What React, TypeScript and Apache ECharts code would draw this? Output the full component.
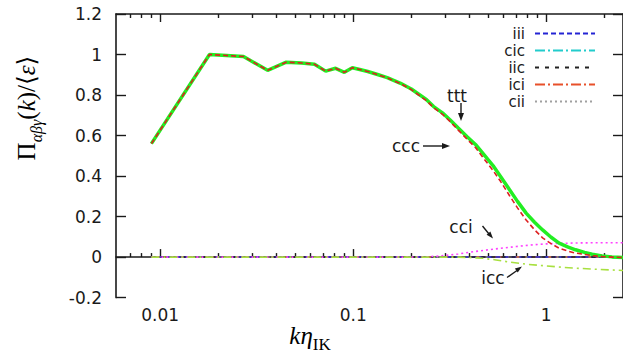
import React, { useEffect, useRef } from "react";
import * as echarts from "echarts";

// ---- data ----
const kMain = [0.009, 0.018, 0.027, 0.036, 0.045, 0.054, 0.063, 0.072, 0.081, 0.09, 0.099, 0.108, 0.119, 0.135, 0.15, 0.176, 0.2, 0.215, 0.24, 0.261, 0.29, 0.318, 0.35, 0.388, 0.43, 0.47, 0.53, 0.58, 0.646, 0.71, 0.787, 0.87, 0.958, 1.06, 1.166, 1.3, 1.42, 1.58, 1.73, 1.95, 2.19, 2.5];
const tttValues = [0.56, 1.0, 0.99, 0.922, 0.962, 0.958, 0.952, 0.918, 0.932, 0.912, 0.935, 0.926, 0.916, 0.9, 0.886, 0.858, 0.83, 0.809, 0.777, 0.743, 0.712, 0.677, 0.637, 0.595, 0.556, 0.512, 0.452, 0.398, 0.332, 0.275, 0.217, 0.172, 0.134, 0.098, 0.069, 0.049, 0.036, 0.023, 0.014, 0.006, 0.001, -0.002];
const cccValues = [0.56, 1.0, 0.99, 0.922, 0.962, 0.958, 0.952, 0.918, 0.932, 0.912, 0.935, 0.926, 0.916, 0.899, 0.885, 0.856, 0.827, 0.805, 0.772, 0.737, 0.705, 0.669, 0.627, 0.583, 0.541, 0.492, 0.428, 0.374, 0.303, 0.243, 0.183, 0.135, 0.095, 0.066, 0.044, 0.029, 0.02, 0.013, 0.007, 0.003, 0.0, -0.002];

const kCci = [0.009, 0.1, 0.2, 0.25, 0.3, 0.35, 0.4, 0.45, 0.5, 0.6, 0.7, 0.8, 0.9, 1.0, 1.2, 1.5, 2.0, 2.5];
const cciValues = [0, 0, 0, 0.002, 0.008, 0.015, 0.024, 0.03, 0.036, 0.045, 0.052, 0.058, 0.062, 0.065, 0.068, 0.07, 0.071, 0.071];

const kIcc = [0.009, 0.1, 0.35, 0.4, 0.47, 0.55, 0.65, 0.8, 0.96, 1.2, 1.5, 1.8, 2.2, 2.5];
const iccValues = [0, 0, 0, -0.002, -0.006, -0.014, -0.025, -0.036, -0.042, -0.05, -0.056, -0.06, -0.064, -0.066];

const kFlat = [0.009, 0.03, 0.1, 0.3, 1.0, 2.5];
const iiiValues = [0, 0, 0, 0, 0, 0];
const cicValues = [0, 0, 0, 0, 0, 0];
const iicValues = [0, 0, 0, 0, 0, 0];
const iciValues = [0, 0, 0, 0, 0, 0];
const ciiValues = [0, 0, 0, 0, 0, 0];

const legendNames = ["iii", "cic", "iic", "ici", "cii"];
const xMajorTicks = [0.01, 0.1, 1];
const xTickLabels = ["0.01", "0.1", "1"];
const xMinorTicks = [0.007, 0.008, 0.009, 0.02, 0.03, 0.04, 0.05, 0.06, 0.07, 0.08, 0.09, 0.2, 0.3, 0.4, 0.5, 0.6, 0.7, 0.8, 0.9, 2];
const yTicks = { min: -0.2, max: 1.2, interval: 0.2 };

const pair = (ks: number[], vs: number[]) => ks.map((k, i) => [k, vs[i]]);

const SANS = "DejaVu Sans";
const SERIF = "Liberation Serif, DejaVu Serif, serif";
const INK = "#1a1a1a";

function lineSeries(name: string, ks: number[], vs: number[], color: string, width: number, type: any, z = 2) {
  return {
    name,
    type: "line",
    xAxisIndex: 0,
    yAxisIndex: 0,
    data: pair(ks, vs),
    symbol: "none",
    showSymbol: false,
    lineStyle: { color, width, type },
    itemStyle: { color },
    z,
  };
}

export default function App() {
  const ref = useRef<HTMLDivElement>(null);
  useEffect(() => {
    if (!ref.current) return;
    const chart = echarts.init(ref.current, undefined, { renderer: "svg" });
    const xBase = { type: "log", logBase: 10, min: 0.0059, max: 2.5, gridIndex: 0, splitLine: { show: false } };
    const axLine = { show: true, lineStyle: { color: INK, width: 1.6 } };
    const option: any = {
      animation: false,
      backgroundColor: "#fff",
      grid: { left: 116, top: 14, right: -4.6, bottom: 57.4, containLabel: false },
      xAxis: [
        {
          ...xBase,
          position: "bottom",
          axisLine: axLine,
          axisTick: { show: true, inside: true, length: 8, customValues: xMajorTicks, lineStyle: { color: INK, width: 1.4 } },
          axisLabel: {
            show: true,
            customValues: xMajorTicks,
            margin: 9,
            fontSize: 17,
            fontFamily: SANS,
            color: INK,
            formatter: (v: number) => {
              let best = 0;
              xMajorTicks.forEach((t, i) => {
                if (Math.abs(Math.log10(t) - Math.log10(v)) < Math.abs(Math.log10(xMajorTicks[best]) - Math.log10(v))) best = i;
              });
              return xTickLabels[best];
            },
          },
        },
        {
          ...xBase,
          position: "bottom",
          axisLine: { show: false },
          axisTick: { show: true, inside: true, length: 4, customValues: xMinorTicks, lineStyle: { color: INK, width: 1.4 } },
          axisLabel: { show: false },
        },
        {
          ...xBase,
          position: "top",
          axisLine: axLine,
          axisTick: { show: true, inside: true, length: 8, customValues: xMajorTicks, lineStyle: { color: INK, width: 1.4 } },
          axisLabel: { show: false },
        },
        {
          ...xBase,
          position: "top",
          axisLine: { show: false },
          axisTick: { show: true, inside: true, length: 4, customValues: xMinorTicks, lineStyle: { color: INK, width: 1.4 } },
          axisLabel: { show: false },
        },
      ],
      yAxis: [
        {
          type: "value",
          position: "left",
          min: yTicks.min,
          max: yTicks.max,
          interval: yTicks.interval,
          splitLine: { show: false },
          axisLine: axLine,
          axisTick: { show: true, inside: true, length: 10, lineStyle: { color: INK, width: 1.4 } },
          axisLabel: { margin: 14, fontSize: 17, fontFamily: SANS, color: INK },
        },
        {
          type: "value",
          position: "right",
          min: yTicks.min,
          max: yTicks.max,
          interval: yTicks.interval,
          splitLine: { show: false },
          axisLine: axLine,
          axisTick: { show: true, inside: true, length: 10, lineStyle: { color: INK, width: 1.4 } },
          axisLabel: { show: false },
        },
      ],
      legend: {
        data: legendNames,
        orient: "vertical",
        right: 22,
        top: 20,
        align: "right",
        itemWidth: 60,
        itemHeight: 10,
        itemGap: 0,
        selectedMode: false,
        itemStyle: { color: "transparent", borderColor: "transparent", borderWidth: 0, opacity: 0 },
        textStyle: { fontSize: 15, fontFamily: SANS, color: INK, lineHeight: 17, padding: [0, 5, 0, 0] },
      },
      series: [
        lineSeries("cii", kFlat, ciiValues, "#a0a0a0", 1.5, [2, 3], 2),
        lineSeries("cic", kFlat, cicValues, "#22cccc", 1.5, [10, 3, 2, 3], 2),
        lineSeries("ici", kFlat, iciValues, "#e8502a", 1.5, [10, 3, 2, 3], 2),
        lineSeries("iii", kFlat, iiiValues, "#2424d4", 1.5, [5, 3], 2),
        lineSeries("iic", kFlat, iicValues, "#222222", 1.5, [4, 6], 2),
        lineSeries("cci", kCci, cciValues, "#ff40ff", 1.6, [2, 3], 3),
        lineSeries("icc", kIcc, iccValues, "#a8e040", 1.6, [8, 4, 2, 4], 3),
        lineSeries("ttt", kMain, tttValues, "#22ee22", 3.5, "solid", 4),
        lineSeries("ccc", kMain, cccValues, "#dd2020", 1.6, [5, 3], 5),
      ],
      graphic: [
        // y axis title
        {
          type: "text",
          x: 29,
          y: 108,
          rotation: Math.PI / 2,
          style: {
            text: "{r|Π}{s|αβγ}{r|(}{i|k}{r|)/⟨}{i|ε}{r|⟩}",
            align: "center",
            verticalAlign: "middle",
            rich: {
              r: { fontSize: 25, fontFamily: SERIF, color: INK, lineHeight: 27, verticalAlign: "top" },
              i: { fontSize: 25, fontFamily: SERIF, fontStyle: "italic", color: INK, lineHeight: 27, verticalAlign: "top" },
              s: { fontSize: 16, fontFamily: SERIF, fontStyle: "italic", color: INK, lineHeight: 31, verticalAlign: "bottom" },
            },
          },
        },
        // x axis title
        {
          type: "text",
          x: 310,
          y: 338,
          style: {
            text: "{i|kη}{s|IK}",
            align: "center",
            verticalAlign: "middle",
            rich: {
              i: { fontSize: 25, fontFamily: SERIF, fontStyle: "italic", color: INK, lineHeight: 26, verticalAlign: "top" },
              s: { fontSize: 17, fontFamily: SERIF, color: INK, lineHeight: 30, verticalAlign: "bottom" },
            },
          },
        },
        // annotations
        { type: "text", x: 457, y: 96, style: { text: "ttt", fontSize: 17, fontFamily: SANS, fill: INK, align: "center", verticalAlign: "middle" } },
        { type: "line", shape: { x1: 461, y1: 103, x2: 461, y2: 114 }, style: { stroke: INK, lineWidth: 1.4 } },
        { type: "polygon", shape: { points: [[458, 113], [464, 113], [461, 121]] }, style: { fill: INK } },

        { type: "text", x: 406, y: 146, style: { text: "ccc", fontSize: 17, fontFamily: SANS, fill: INK, align: "center", verticalAlign: "middle" } },
        { type: "line", shape: { x1: 423, y1: 146, x2: 443, y2: 146 }, style: { stroke: INK, lineWidth: 1.4 } },
        { type: "polygon", shape: { points: [[442, 143], [442, 149], [450, 146]] }, style: { fill: INK } },

        { type: "text", x: 461, y: 227, style: { text: "cci", fontSize: 17, fontFamily: SANS, fill: INK, align: "center", verticalAlign: "middle" } },
        { type: "line", shape: { x1: 482.5, y1: 226, x2: 489, y2: 234 }, style: { stroke: INK, lineWidth: 1.4 } },
        { type: "polygon", shape: { points: [[486.6, 234.7], [490.4, 231.5], [493, 238.5]] }, style: { fill: INK } },

        { type: "text", x: 493, y: 278, style: { text: "icc", fontSize: 17, fontFamily: SANS, fill: INK, align: "center", verticalAlign: "middle" } },
        { type: "line", shape: { x1: 507, y1: 277.5, x2: 517, y2: 270.5 }, style: { stroke: INK, lineWidth: 1.4 } },
        { type: "polygon", shape: { points: [[517.7, 272.5], [514.9, 268.4], [522, 266.5]] }, style: { fill: INK } },
      ],
    };
    chart.setOption(option);
    return () => chart.dispose();
  }, []);
  return <div ref={ref} style={{ position: "fixed", left: 0, top: 0, width: 623, height: 355, background: "#fff" }} />;
}
